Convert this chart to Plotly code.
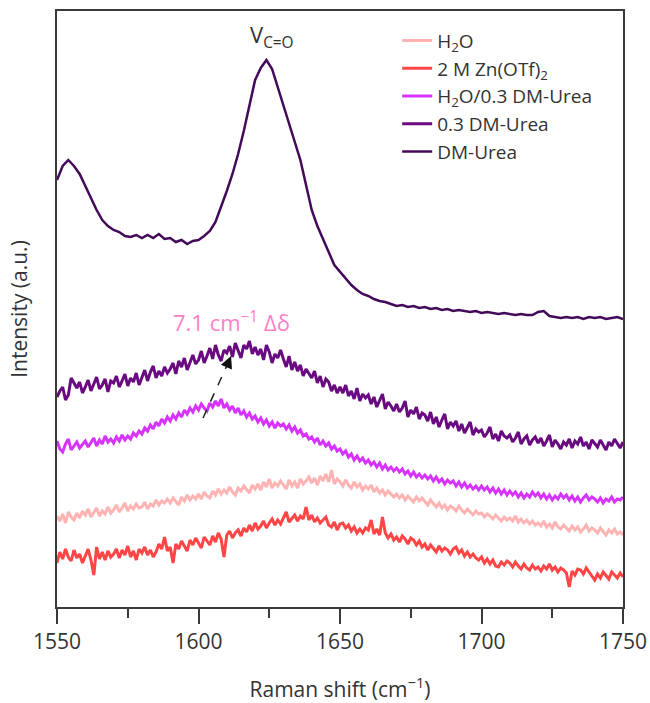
import plotly.graph_objects as go

# Raman shift axes (cm^-1)
shift_fine = list(range(1550, 1751))          # 1 cm^-1 step
shift_coarse = list(range(1550, 1751, 2))     # 2 cm^-1 step

# Intensities (a.u., stacked offsets as in the figure)
h2o = [
    91, 86, 93, 84, 95, 90, 87, 94, 89, 96,
    92, 98, 90, 95, 99, 91, 96, 93, 100, 94,
    97, 102, 95, 99, 104, 96, 101, 98, 103, 99,
    100, 105, 98, 103, 101, 107, 102, 106, 104, 108,
    104, 109, 105, 102, 110, 106, 112, 107, 111, 108,
    113, 108, 115, 111, 109, 116, 112, 118, 113, 117,
    114, 120, 115, 112, 119, 116, 121, 117, 114, 122,
    118, 123, 117, 125, 120, 128, 119, 124, 121, 126,
    122, 118, 127, 121, 125, 119, 128, 123, 126, 130,
    124, 129, 122, 131, 126, 133, 125, 137, 123, 128,
    125, 121, 127, 122, 119, 125, 120, 123, 117, 121,
    118, 122, 115, 119, 114, 117, 112, 116, 113, 110,
    113, 109, 112, 107, 111, 108, 105, 110, 106, 109,
    105, 102, 107, 103, 100, 104, 99, 102, 97, 101,
    99, 96, 101, 97, 94, 98, 95, 92, 96, 93,
    94, 90, 93, 91, 88, 92, 89, 86, 90, 87,
    89, 86, 91, 85, 88, 84, 87, 83, 86, 82,
    84, 81, 86, 80, 83, 79, 85, 80, 78, 82,
    79, 76, 81, 77, 80, 75, 78, 82, 76, 79,
    77, 74, 79, 75, 72, 77, 74, 78, 73, 75,
    72,
]

zn_otf = [
    44, 55, 48, 58, 50, 46, 57, 49, 53, 44,
    51, 58, 47, 32, 60, 48, 55, 47, 56, 50,
    53, 58, 49, 57, 52, 61, 50, 56, 47, 58,
    54, 60, 52, 57, 50, 55, 63, 58, 70, 56,
    60, 44, 63, 58, 66, 61, 56, 67, 62, 69,
    64, 59, 70, 66, 62, 71, 65, 74, 68, 50,
    72, 76, 69, 74, 77, 71, 79, 75, 82, 76,
    84, 78, 81, 86, 79, 84, 88, 82, 87, 83,
    90, 95, 85, 89, 92, 86, 91, 88, 100, 87,
    92, 85, 89, 84, 87, 90, 82, 80, 85, 77,
    83, 84, 79, 82, 76, 80, 74, 78, 74, 79,
    77, 87, 73, 78, 72, 90, 74, 69, 73, 67,
    70, 65, 71, 68, 63, 69, 67, 62, 66, 60,
    63, 57, 62, 58, 55, 61, 56, 59, 57, 53,
    58, 60, 54, 57, 51, 55, 50, 53, 49, 47,
    50, 44, 48, 43, 47, 41, 40, 45, 42, 46,
    44, 40, 45, 41, 38, 43, 39, 37, 42, 38,
    40, 36, 41, 38, 43, 37, 40, 35, 39, 37,
    34, 20, 36, 32, 38, 37, 33, 39, 35, 31,
    27, 33, 29, 35, 31, 28, 35, 32, 29, 34,
    30,
]

h2o_dmurea = [
    166, 158, 155, 163, 168, 157, 161, 165, 159, 163,
    166, 160, 164, 169, 161, 167, 163, 171, 165, 168,
    164, 170, 166, 172, 167, 171, 168, 174, 171, 176,
    173, 179, 176, 182, 178, 185, 181, 188, 184, 190,
    186, 192, 188, 194, 190, 197, 193, 199, 195, 201,
    197, 203, 199, 196, 204, 200, 206, 201, 208, 199,
    203, 197, 201, 194, 199, 192, 196, 190, 194, 188,
    191, 185, 189, 183, 187, 181, 185, 179, 184, 181,
    183, 178, 182, 176, 180, 174, 177, 171, 173, 168,
    170, 165, 169, 162, 166, 161, 164, 158, 161, 156,
    158, 153, 156, 150, 153, 147, 151, 146, 149, 144,
    147, 142, 145, 140, 144, 138, 142, 137, 140, 136,
    139, 135, 138, 133, 136, 131, 135, 130, 133, 129,
    132, 128, 131, 126, 130, 125, 128, 123, 127, 124,
    126, 121, 125, 120, 124, 119, 122, 118, 121, 117,
    121, 117, 120, 115, 119, 114, 118, 113, 117, 112,
    116, 112, 115, 110, 114, 109, 113, 110, 115, 111,
    114, 109, 113, 108, 112, 107, 111, 108, 113, 109,
    112, 107, 111, 106, 110, 105, 109, 112, 107, 110,
    108, 105, 109, 104, 108, 106, 110, 105, 108, 107,
    110,
]

dmurea_03 = [
    210, 216, 220, 207, 212, 229, 224, 219, 225, 214,
    220, 227, 216, 224, 230, 218, 222, 228, 215, 226,
    224, 231, 220, 226, 233, 221, 229, 225, 234, 222,
    230, 237, 226, 235, 241, 229, 236, 231, 240, 234,
    238, 244, 233, 246, 240, 249, 237, 245, 252, 243,
    247, 256, 244, 251, 259, 248, 262, 252, 246, 257,
    254, 261, 250, 264, 256, 249, 262, 258, 266, 253,
    260, 252, 258, 247, 262, 255, 244, 253, 249, 257,
    248, 240, 251, 237, 245, 236, 242, 231, 238, 234,
    229, 236, 224, 231, 220, 228, 225, 216, 222, 214,
    220, 214, 222, 211, 216, 208, 219, 206, 213, 209,
    212, 203, 210, 200, 207, 213, 198, 205, 201, 196,
    203, 195, 199, 206, 190, 197, 193, 200, 188, 194,
    192, 186, 195, 183, 190, 180, 187, 193, 178, 185,
    181, 186, 176, 183, 174, 179, 185, 172, 178, 175,
    177, 170, 174, 180, 168, 173, 166, 176, 171, 169,
    172, 165, 169, 175, 163, 168, 171, 162, 167, 170,
    164, 169, 161, 166, 172, 160, 167, 163, 158, 165,
    162, 168, 159, 166, 163, 170, 161, 165, 158, 167,
    164, 160, 167, 162, 157, 165, 161, 168, 163, 159,
    165,
]

dmurea = [
    427, 441, 447, 441, 433, 421, 409, 397, 387, 381,
    377, 375, 371, 370, 372, 369, 372, 369, 373, 368,
    369, 365, 367, 363, 366, 367, 371, 376, 385, 400,
    416, 433, 453, 476, 502, 527, 539, 547, 538, 520,
    502, 485, 467, 447, 422, 397, 381, 367, 355, 342,
    335, 328, 322, 317, 313, 311, 308, 306, 305, 303,
    301, 302, 300, 301, 299, 300, 298, 299, 297, 298,
    296, 297, 296, 295, 296, 294, 295, 294, 293, 294,
    293, 292, 293, 292, 292, 295, 296, 291, 290, 289,
    290, 289, 290, 288, 290, 289, 290, 288, 289, 290,
    288,
]

series_names = ["H<sub>2</sub>O", "2 M Zn(OTf)<sub>2</sub>", "H<sub>2</sub>O/0.3 DM-Urea",
                "0.3 DM-Urea", "DM-Urea"]
series_colors = ["#ffb3b3", "#ff4545", "#d633ff", "#6a0a80", "#430a5a"]

fig = go.Figure()
data = [
    (shift_fine, h2o, 3),
    (shift_fine, zn_otf, 3),
    (shift_fine, h2o_dmurea, 3),
    (shift_fine, dmurea_03, 3),
    (shift_coarse, dmurea, 2.5),
]
for (xs, ys, w), name, color in zip(data, series_names, series_colors):
    fig.add_trace(go.Scatter(x=xs, y=ys, mode="lines", name=name,
                             line=dict(color=color, width=w)))

axis_color = "#3a3a3a"
fig.update_xaxes(
    range=[1550, 1750], tickvals=[1550, 1600, 1650, 1700, 1750],
    ticks="outside", ticklen=15, tickwidth=1.5, tickcolor=axis_color,
    minor=dict(tickvals=[1575, 1625, 1675, 1725], ticks="outside", ticklen=9,
               tickwidth=1.5, tickcolor=axis_color),
    showline=True, linecolor=axis_color, linewidth=1.5, mirror=True,
    showgrid=False, zeroline=False, automargin=False,
    tickfont=dict(size=21, color="#333333"),
    title=dict(text="Raman shift (cm<sup>−1</sup>)", font=dict(size=21, color="#333333"),
               standoff=30),
)
fig.update_yaxes(
    range=[0, 596], showticklabels=False, ticks="",
    showline=True, linecolor=axis_color, linewidth=1.5, mirror=True,
    showgrid=False, zeroline=False, automargin=False,
    title=dict(text="Intensity (a.u.)", font=dict(size=21, color="#333333"), standoff=22),
)

# Annotations
fig.add_annotation(x=1626, y=571, text="V<sub>C=O</sub>", showarrow=False,
                   font=dict(size=22, color="#333333"), xanchor="center", yanchor="middle")
fig.add_annotation(x=1611.5, y=286, text="7.1 cm<sup>−1</sup> Δδ", showarrow=False,
                   font=dict(size=22, color="#ff80c8"), xanchor="center", yanchor="middle")
# dashed arrow shaft
fig.add_shape(type="line", x0=1601.6, y0=189, x1=1609.8, y1=240,
              line=dict(color="#222222", width=1.5, dash="dash"))
# arrow head
fig.add_annotation(x=1611.5, y=251, ax=1609.6, ay=238, axref="x", ayref="y",
                   xref="x", yref="y", text="", showarrow=True,
                   arrowhead=2, arrowsize=1.6, arrowwidth=1.5, arrowcolor="#111111")

fig.update_layout(
    width=650, height=703,
    margin=dict(l=57, r=27, t=11, b=96),
    paper_bgcolor="white", plot_bgcolor="white",
    font=dict(family="Open Sans", color="#333333"),
    showlegend=True,
    legend=dict(x=0.601, y=0.982, xanchor="left", yanchor="top",
                bgcolor="rgba(0,0,0,0)", font=dict(size=19, color="#333333"),
                tracegroupgap=0, itemwidth=30),
)

fig.write_html("out.html")
